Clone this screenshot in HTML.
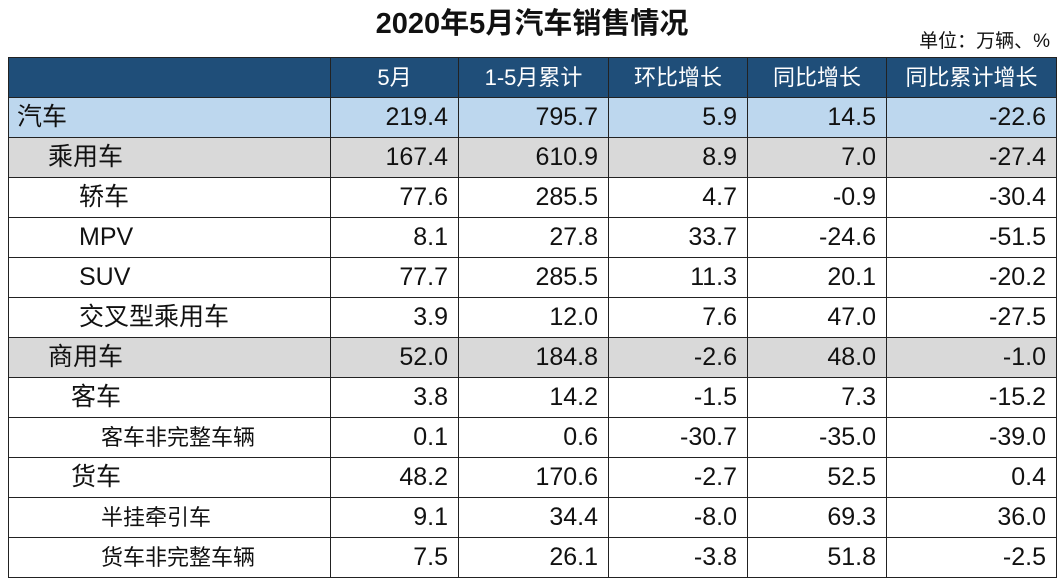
<!DOCTYPE html>
<html><head><meta charset="utf-8"><style>
body{margin:0;width:1064px;height:585px;background:#fff;font-family:"Liberation Sans","Noto Sans CJK SC",sans-serif;position:relative;overflow:hidden}
.t{position:absolute;top:0px;left:0;width:1064px;text-align:center;font-weight:bold;font-size:29px;color:#111}
.u{position:absolute;top:26px;right:14px;font-size:19px;color:#111}
table{position:absolute;left:8px;top:57px;border-collapse:collapse;table-layout:fixed}
td{height:39px;border:1.5px solid #222;font-size:25px;text-align:right;padding:0 10px 0 0;color:#111;line-height:39px;white-space:nowrap}
tr.h td{background:#1f4e79;color:#fff;text-align:center;padding:0;font-size:22px}
tr.a td{background:#bdd7ee}
tr.g td{background:#d9d9d9}
td.n{text-align:left;border-right:1.5px solid #222}
tr td:first-child{border-left:1.5px solid #222}
tr:not(.h) td{border-top:1.5px solid #222;border-bottom:1.5px solid #222}
</style></head><body>
<div class="t">2020年5月汽车销售情况</div>
<div class="u">单位：万辆、%</div>
<table>
<colgroup><col style="width:322px"><col style="width:128px"><col style="width:150px"><col style="width:139px"><col style="width:139px"><col style="width:170px"></colgroup>
<tr class="h"><td></td><td>5月</td><td>1-5月累计</td><td>环比增长</td><td>同比增长</td><td>同比累计增长</td></tr>
<tr class="a"><td class="n" style="padding-left:8px">汽车</td><td>219.4</td><td>795.7</td><td>5.9</td><td>14.5</td><td>-22.6</td></tr>
<tr class="g"><td class="n" style="padding-left:39px">乘用车</td><td>167.4</td><td>610.9</td><td>8.9</td><td>7.0</td><td>-27.4</td></tr>
<tr><td class="n" style="padding-left:70px">轿车</td><td>77.6</td><td>285.5</td><td>4.7</td><td>-0.9</td><td>-30.4</td></tr>
<tr><td class="n" style="padding-left:70px">MPV</td><td>8.1</td><td>27.8</td><td>33.7</td><td>-24.6</td><td>-51.5</td></tr>
<tr><td class="n" style="padding-left:70px">SUV</td><td>77.7</td><td>285.5</td><td>11.3</td><td>20.1</td><td>-20.2</td></tr>
<tr><td class="n" style="padding-left:70px">交叉型乘用车</td><td>3.9</td><td>12.0</td><td>7.6</td><td>47.0</td><td>-27.5</td></tr>
<tr class="g"><td class="n" style="padding-left:39px">商用车</td><td>52.0</td><td>184.8</td><td>-2.6</td><td>48.0</td><td>-1.0</td></tr>
<tr><td class="n" style="padding-left:62px">客车</td><td>3.8</td><td>14.2</td><td>-1.5</td><td>7.3</td><td>-15.2</td></tr>
<tr><td class="n" style="padding-left:92px;font-size:22px">客车非完整车辆</td><td>0.1</td><td>0.6</td><td>-30.7</td><td>-35.0</td><td>-39.0</td></tr>
<tr><td class="n" style="padding-left:62px">货车</td><td>48.2</td><td>170.6</td><td>-2.7</td><td>52.5</td><td>0.4</td></tr>
<tr><td class="n" style="padding-left:92px;font-size:22px">半挂牵引车</td><td>9.1</td><td>34.4</td><td>-8.0</td><td>69.3</td><td>36.0</td></tr>
<tr><td class="n" style="padding-left:92px;font-size:22px">货车非完整车辆</td><td>7.5</td><td>26.1</td><td>-3.8</td><td>51.8</td><td>-2.5</td></tr>
</table>
</body></html>
